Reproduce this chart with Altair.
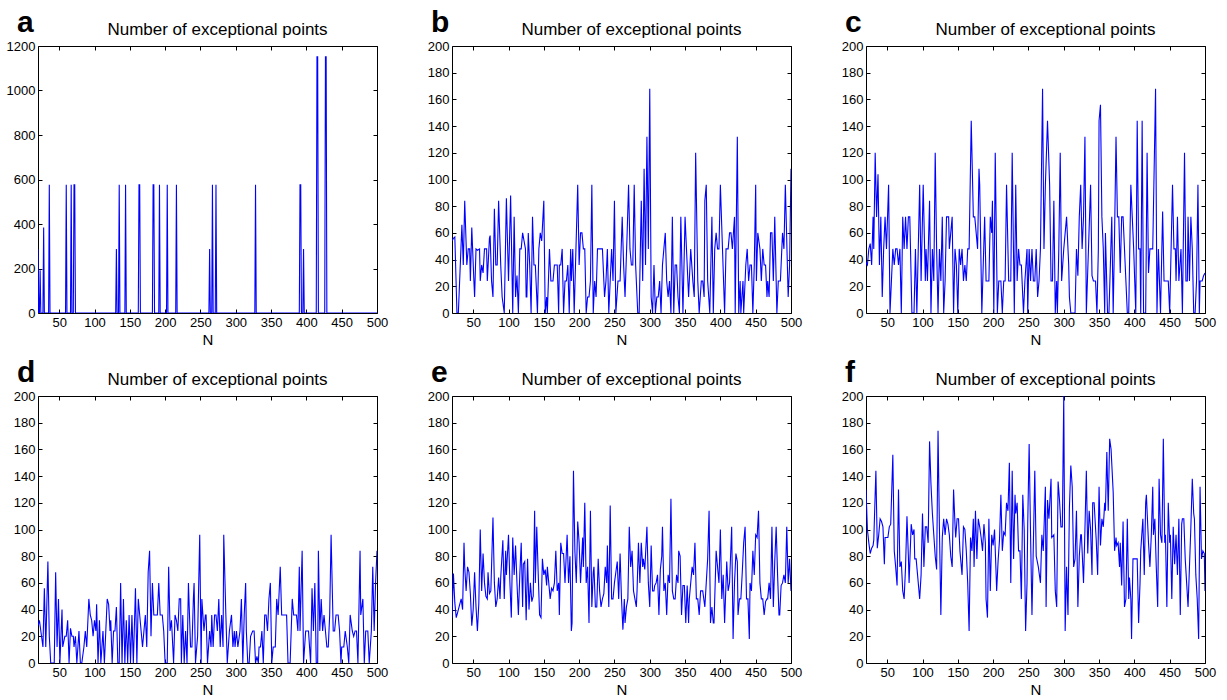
import altair as alt
import pandas as pd

N_MIN, N_MAX = 20, 500
X_TICKS = list(range(50, 501, 50))

# Panel a: zero everywhere except these spikes (N, count)
a_spikes = [(20, 288), (23, 192), (28, 384), (36, 576), (60, 576), (67, 576), (71, 576),
            (72, 576), (131, 288), (135, 576), (144, 576), (163, 576), (164, 576),
            (183, 576), (184, 576), (192, 576), (203, 576), (216, 576), (263, 288),
            (267, 576), (272, 576), (328, 576), (391, 576), (392, 576), (396, 288),
            (415, 1152), (416, 1152), (427, 1152), (428, 1152)]

b_points = [(20, 54), (22, 56), (24, 57), (27, 0), (29, 0), (34, 66), (36, 36), (38, 84), (41, 36),
            (43, 48), (45, 48), (46, 24), (48, 64), (51, 24), (52, 12), (54, 48), (56, 47), (59, 48),
            (60, 24), (62, 36), (64, 30), (66, 48), (69, 48), (70, 24), (73, 56), (74, 58), (76, 24),
            (78, 12), (80, 78), (82, 36), (84, 36), (86, 84), (89, 36), (91, 12), (94, 0), (97, 86),
            (100, 24), (103, 88), (106, 0), (108, 72), (110, 12), (112, 28), (114, 0), (116, 48),
            (118, 48), (120, 60), (122, 54), (124, 48), (125, 12), (126, 12), (128, 60), (130, 36),
            (132, 0), (134, 72), (136, 36), (138, 36), (141, 0), (143, 48), (145, 60), (147, 54),
            (150, 84), (152, 0), (154, 12), (155, 0), (158, 48), (160, 24), (163, 24), (165, 36),
            (169, 36), (171, 0), (172, 36), (174, 36), (176, 48), (178, 0), (180, 24), (182, 24),
            (184, 36), (186, 0), (188, 48), (189, 24), (191, 48), (193, 0), (198, 96), (200, 36),
            (202, 60), (204, 60), (206, 48), (208, 48), (210, 0), (212, 12), (214, 12), (216, 24),
            (218, 96), (220, 0), (222, 24), (224, 12), (226, 48), (231, 48), (233, 48), (236, 12),
            (238, 24), (240, 48), (242, 0), (244, 24), (246, 48), (248, 24), (250, 84), (252, 0),
            (255, 24), (258, 24), (261, 72), (263, 36), (265, 12), (268, 60), (270, 96), (272, 48),
            (274, 36), (276, 36), (278, 96), (280, 36), (283, 0), (285, 0), (288, 84), (290, 24),
            (292, 108), (294, 36), (296, 132), (298, 48), (300, 168), (302, 12), (304, 0), (306, 36),
            (308, 0), (310, 12), (312, 12), (314, 24), (316, 0), (318, 36), (320, 48), (322, 60),
            (324, 24), (326, 12), (328, 24), (330, 0), (332, 72), (334, 0), (336, 36), (338, 36),
            (340, 12), (342, 0), (344, 72), (347, 0), (350, 72), (352, 48), (355, 12), (358, 48),
            (361, 24), (363, 12), (365, 120), (368, 24), (370, 0), (373, 24), (375, 24), (377, 12),
            (378, 84), (380, 96), (382, 24), (385, 0), (388, 72), (390, 0), (392, 48), (394, 60),
            (396, 48), (398, 48), (400, 96), (403, 48), (406, 0), (408, 48), (411, 48), (413, 60),
            (415, 60), (417, 48), (420, 72), (421, 0), (424, 132), (426, 0), (428, 24), (429, 0),
            (432, 24), (433, 0), (436, 36), (438, 48), (440, 24), (442, 36), (444, 36), (446, 0),
            (448, 36), (450, 96), (451, 24), (453, 60), (456, 48), (458, 24), (460, 48), (462, 36),
            (464, 36), (466, 12), (467, 24), (469, 12), (471, 60), (473, 60), (475, 24), (477, 72),
            (480, 0), (482, 24), (485, 24), (488, 60), (490, 48), (492, 96), (496, 12), (498, 36),
            (500, 108)]

c_points = [(20, 38), (22, 36), (24, 48), (26, 52), (28, 36), (30, 72), (31, 48), (33, 120), (35, 72),
            (37, 104), (39, 36), (41, 72), (43, 12), (45, 48), (47, 72), (49, 48), (52, 96), (54, 0),
            (56, 24), (58, 48), (60, 36), (62, 48), (64, 48), (66, 36), (68, 48), (70, 0), (72, 72),
            (74, 48), (76, 72), (78, 48), (80, 72), (82, 72), (85, 0), (88, 0), (90, 48), (92, 0),
            (96, 96), (98, 24), (101, 96), (104, 24), (105, 48), (107, 24), (110, 84), (112, 0),
            (114, 48), (116, 24), (118, 120), (120, 48), (122, 0), (124, 48), (126, 24), (128, 72),
            (130, 0), (132, 24), (134, 72), (137, 72), (138, 48), (142, 72), (144, 0), (146, 48),
            (148, 36), (150, 0), (152, 48), (154, 36), (156, 48), (158, 24), (160, 36), (162, 24),
            (164, 48), (166, 48), (169, 144), (172, 72), (174, 72), (178, 48), (180, 108), (181, 96),
            (184, 0), (188, 72), (190, 24), (194, 24), (196, 72), (198, 60), (199, 84), (201, 0),
            (203, 120), (206, 0), (208, 24), (211, 24), (213, 0), (215, 24), (217, 24), (219, 96),
            (222, 24), (223, 24), (225, 24), (227, 120), (230, 0), (232, 96), (234, 24), (236, 48),
            (238, 36), (240, 36), (243, 0), (245, 24), (248, 48), (249, 0), (251, 48), (253, 24),
            (255, 48), (257, 24), (259, 24), (261, 48), (263, 12), (265, 24), (267, 48), (270, 168),
            (272, 48), (274, 96), (277, 144), (280, 96), (282, 24), (284, 24), (286, 84), (288, 0),
            (290, 24), (291, 0), (293, 48), (295, 120), (297, 24), (300, 48), (304, 72), (307, 36),
            (308, 12), (310, 0), (313, 0), (316, 0), (318, 48), (320, 28), (322, 72), (324, 96),
            (326, 48), (328, 72), (330, 132), (332, 0), (335, 48), (338, 96), (340, 28), (342, 24),
            (345, 24), (347, 0), (349, 48), (350, 144), (352, 156), (354, 72), (356, 48), (358, 0),
            (359, 60), (362, 0), (364, 0), (366, 36), (368, 72), (370, 0), (372, 60), (374, 132),
            (376, 72), (378, 72), (380, 30), (382, 72), (384, 72), (387, 36), (390, 0), (392, 0),
            (395, 96), (397, 72), (399, 48), (402, 0), (404, 144), (406, 48), (408, 48), (409, 0),
            (411, 144), (413, 0), (416, 0), (418, 120), (420, 30), (422, 48), (424, 48), (426, 48),
            (430, 168), (432, 0), (434, 48), (437, 0), (440, 76), (442, 24), (445, 24), (448, 24),
            (450, 0), (454, 96), (456, 48), (458, 48), (459, 24), (461, 72), (463, 24), (466, 48),
            (468, 0), (471, 120), (473, 24), (475, 24), (476, 72), (478, 24), (480, 72), (482, 48),
            (484, 0), (486, 0), (488, 24), (490, 96), (492, 0), (493, 24), (496, 24), (498, 28),
            (500, 30)]

d_points = [(20, 28), (22, 32), (25, 20), (27, 12), (29, 56), (31, 12), (34, 76), (36, 20), (38, 0),
            (41, 0), (43, 0), (45, 68), (47, 12), (49, 48), (51, 0), (54, 40), (55, 12), (58, 20),
            (60, 20), (62, 32), (64, 0), (66, 26), (68, 20), (70, 20), (71, 12), (73, 20), (75, 0),
            (78, 24), (80, 0), (82, 0), (85, 12), (87, 24), (89, 12), (92, 48), (94, 36), (96, 32),
            (98, 20), (100, 32), (102, 24), (103, 44), (105, 0), (107, 32), (109, 0), (112, 24),
            (114, 0), (116, 24), (118, 48), (120, 44), (122, 24), (123, 32), (125, 0), (127, 24),
            (129, 24), (131, 42), (133, 0), (135, 0), (137, 60), (139, 0), (141, 48), (143, 0),
            (145, 32), (147, 0), (149, 36), (151, 0), (153, 36), (155, 0), (158, 56), (160, 0),
            (162, 48), (164, 36), (166, 24), (168, 12), (170, 24), (172, 36), (174, 12), (176, 68),
            (178, 84), (180, 20), (182, 60), (184, 36), (187, 36), (189, 36), (191, 60), (193, 36),
            (196, 36), (198, 24), (200, 0), (203, 0), (205, 72), (207, 24), (209, 32), (212, 0),
            (214, 36), (216, 32), (218, 24), (220, 48), (222, 48), (223, 0), (225, 36), (227, 0),
            (229, 24), (231, 0), (233, 60), (236, 12), (238, 12), (240, 48), (241, 60), (243, 0),
            (246, 20), (249, 96), (251, 0), (252, 48), (255, 24), (257, 36), (258, 36), (260, 0),
            (263, 24), (265, 12), (266, 36), (268, 12), (270, 36), (272, 36), (274, 24), (276, 48),
            (278, 12), (280, 36), (282, 12), (283, 96), (286, 36), (288, 0), (291, 24), (294, 36),
            (296, 12), (298, 24), (299, 12), (301, 24), (303, 12), (306, 24), (308, 48), (310, 0),
            (312, 36), (314, 60), (315, 24), (317, 0), (319, 0), (321, 20), (324, 24), (326, 24),
            (328, 0), (330, 5), (332, 0), (333, 12), (335, 12), (337, 24), (339, 0), (341, 36),
            (343, 36), (345, 24), (347, 48), (349, 60), (351, 0), (353, 12), (356, 12), (358, 48),
            (360, 36), (363, 72), (365, 36), (367, 36), (370, 36), (372, 36), (374, 0), (377, 0),
            (380, 48), (382, 36), (384, 36), (386, 36), (388, 24), (390, 72), (391, 24), (394, 84),
            (396, 0), (399, 24), (401, 24), (403, 24), (406, 0), (408, 56), (410, 24), (412, 60),
            (414, 0), (416, 0), (417, 84), (419, 24), (421, 48), (423, 24), (425, 36), (427, 24),
            (429, 12), (431, 12), (433, 36), (435, 96), (438, 24), (440, 24), (442, 36), (445, 36),
            (447, 24), (449, 0), (450, 12), (453, 12), (455, 24), (458, 12), (460, 0), (462, 36),
            (465, 24), (467, 20), (469, 24), (471, 24), (473, 0), (476, 84), (477, 36), (480, 48),
            (482, 0), (484, 24), (485, 24), (487, 24), (489, 0), (492, 24), (494, 72), (496, 24),
            (498, 60), (500, 84)]

e_points = [(20, 34), (22, 67), (24, 45), (26, 34), (28, 38), (30, 42), (33, 48), (35, 40), (37, 90),
            (38, 72), (40, 54), (42, 72), (44, 68), (46, 52), (48, 28), (50, 40), (52, 68), (54, 42),
            (56, 24), (58, 45), (60, 100), (62, 54), (64, 82), (66, 60), (68, 50), (70, 48), (71, 68),
            (73, 52), (75, 54), (78, 109), (80, 60), (82, 42), (84, 48), (86, 64), (88, 48), (89, 64),
            (92, 92), (94, 48), (96, 84), (97, 66), (100, 96), (102, 60), (104, 34), (106, 94),
            (108, 66), (110, 88), (112, 60), (114, 36), (116, 66), (118, 90), (120, 42), (121, 74),
            (123, 76), (125, 32), (127, 78), (129, 40), (131, 60), (133, 46), (135, 50), (137, 114),
            (138, 60), (140, 102), (142, 68), (144, 36), (146, 34), (148, 78), (150, 66), (152, 70),
            (154, 58), (155, 72), (157, 60), (159, 48), (161, 56), (163, 54), (165, 60), (167, 84),
            (169, 54), (171, 60), (172, 36), (174, 90), (176, 82), (178, 82), (180, 60), (183, 96),
            (185, 60), (187, 80), (189, 24), (190, 30), (192, 144), (194, 84), (196, 60), (198, 106),
            (200, 90), (202, 60), (205, 94), (206, 72), (208, 120), (210, 60), (212, 72), (214, 30),
            (216, 114), (218, 42), (220, 68), (221, 72), (223, 42), (225, 42), (227, 78), (229, 54),
            (231, 42), (233, 48), (235, 52), (237, 72), (239, 60), (240, 88), (242, 42), (244, 118),
            (246, 48), (248, 48), (250, 60), (252, 68), (254, 76), (256, 48), (258, 82), (260, 48),
            (262, 25), (264, 48), (265, 30), (267, 42), (269, 48), (271, 102), (273, 72), (275, 84),
            (277, 54), (279, 48), (281, 42), (282, 54), (284, 90), (286, 60), (288, 90), (290, 72),
            (291, 78), (293, 70), (296, 102), (298, 60), (300, 42), (302, 88), (304, 54), (306, 54),
            (307, 58), (309, 60), (311, 66), (313, 36), (315, 70), (317, 80), (318, 102), (320, 54),
            (322, 60), (324, 36), (326, 66), (328, 60), (330, 123), (332, 54), (334, 48), (336, 48),
            (338, 66), (340, 60), (341, 84), (343, 80), (345, 36), (347, 58), (349, 58), (351, 30),
            (353, 58), (355, 30), (356, 48), (360, 72), (362, 66), (364, 90), (366, 48), (368, 48),
            (370, 36), (372, 54), (374, 54), (375, 54), (378, 42), (380, 60), (382, 78), (384, 114),
            (386, 30), (388, 42), (390, 30), (391, 30), (394, 84), (396, 72), (398, 60), (400, 100),
            (402, 48), (404, 66), (406, 30), (408, 60), (409, 76), (411, 54), (413, 60), (416, 102),
            (418, 18), (420, 60), (422, 82), (424, 76), (425, 36), (427, 48), (429, 48), (431, 68),
            (433, 90), (435, 102), (437, 48), (439, 48), (441, 18), (442, 60), (444, 54), (446, 84),
            (448, 66), (450, 96), (452, 94), (454, 114), (456, 60), (458, 48), (460, 48), (462, 36),
            (464, 46), (466, 48), (467, 48), (469, 60), (471, 48), (473, 102), (475, 42), (477, 76),
            (479, 102), (481, 66), (483, 36), (484, 36), (486, 58), (488, 60), (490, 66), (492, 60),
            (494, 102), (496, 60), (498, 78), (500, 54)]

f_points = [(20, 130), (22, 100), (24, 90), (26, 82), (28, 86), (30, 88), (31, 92), (34, 144), (36, 86),
            (38, 96), (40, 108), (42, 106), (44, 102), (46, 74), (47, 94), (49, 94), (51, 94), (53, 102),
            (55, 104), (58, 156), (60, 84), (62, 72), (64, 58), (66, 130), (68, 72), (70, 76), (72, 54),
            (74, 48), (76, 72), (78, 110), (80, 80), (81, 60), (84, 104), (86, 96), (88, 100), (89, 78),
            (91, 78), (93, 66), (96, 48), (98, 66), (100, 112), (102, 72), (104, 102), (106, 102),
            (108, 90), (110, 166), (112, 134), (114, 112), (116, 96), (118, 80), (120, 70), (122, 174),
            (124, 100), (126, 36), (128, 94), (130, 108), (132, 96), (134, 108), (136, 104), (138, 96),
            (140, 80), (142, 72), (144, 130), (146, 104), (147, 94), (149, 108), (151, 108), (153, 84),
            (156, 66), (158, 102), (160, 100), (162, 84), (164, 60), (166, 24), (168, 94), (170, 84),
            (172, 108), (173, 72), (175, 114), (177, 78), (179, 108), (181, 102), (183, 94), (185, 84),
            (187, 104), (189, 90), (190, 48), (192, 34), (194, 108), (196, 54), (198, 96), (200, 88),
            (202, 100), (204, 70), (205, 54), (207, 76), (209, 92), (211, 126), (213, 84), (215, 98),
            (217, 96), (219, 120), (221, 114), (223, 150), (225, 60), (227, 144), (229, 78), (231, 126),
            (232, 112), (234, 120), (236, 84), (238, 84), (240, 48), (242, 126), (244, 100), (246, 24),
            (248, 60), (249, 104), (251, 164), (253, 96), (255, 36), (257, 90), (259, 144), (261, 80),
            (264, 72), (267, 60), (269, 96), (271, 84), (274, 132), (275, 42), (277, 122), (279, 108),
            (282, 138), (283, 94), (286, 96), (288, 54), (290, 42), (292, 136), (294, 122), (296, 102),
            (298, 102), (300, 200), (302, 24), (304, 72), (306, 36), (308, 116), (310, 148), (312, 132),
            (314, 72), (316, 78), (318, 114), (320, 42), (322, 80), (324, 96), (325, 96), (328, 60),
            (330, 100), (332, 144), (334, 82), (336, 114), (338, 100), (340, 66), (341, 120), (343, 120),
            (346, 92), (348, 66), (350, 132), (352, 88), (354, 108), (356, 102), (358, 120), (359, 114),
            (361, 158), (363, 114), (365, 168), (367, 160), (370, 128), (372, 84), (374, 94), (375, 88),
            (377, 90), (379, 72), (380, 90), (382, 58), (384, 106), (386, 42), (388, 48), (390, 108),
            (392, 48), (393, 64), (395, 48), (396, 18), (398, 78), (400, 78), (402, 78), (404, 78),
            (406, 30), (408, 60), (409, 84), (412, 108), (414, 66), (416, 120), (417, 126), (420, 90),
            (422, 72), (424, 96), (426, 132), (427, 96), (429, 108), (431, 72), (433, 42), (435, 138),
            (437, 96), (439, 90), (441, 168), (443, 90), (444, 96), (446, 42), (448, 120), (450, 90),
            (451, 96), (453, 48), (455, 102), (457, 74), (459, 96), (461, 66), (463, 108), (465, 36),
            (467, 104), (468, 108), (470, 108), (472, 78), (474, 60), (476, 42), (478, 72), (480, 102),
            (482, 138), (484, 112), (485, 108), (487, 66), (489, 48), (491, 18), (493, 132), (495, 78),
            (497, 84), (499, 82), (500, 54)]

FONT = "Liberation Sans"
TITLE_TEXT = "Number of exceptional points"
PLOT_W, PLOT_H = 339, 267
TICK = 4


def a_series():
    lookup = dict(a_spikes)
    return [(k, lookup.get(k, 0)) for k in range(N_MIN, N_MAX + 1)]


def panel(letter, points, ymax, ystep):
    df = pd.DataFrame(points, columns=["N", "count"])
    x_scale = alt.Scale(domain=[N_MIN, N_MAX], nice=False, zero=False)
    y_scale = alt.Scale(domain=[0, ymax], nice=False)
    y_ticks = list(range(0, ymax + 1, ystep))

    # inward ticks: shift each axis into the plot by its tick length
    tick_style = dict(domain=False, grid=False, tickSize=TICK, offset=-TICK,
                      tickColor="black", tickWidth=1)
    label_style = dict(labelFont=FONT, labelFontSize=13, labelColor="black", format="d",
                       labelPadding=3, labelFlush=False, labelOverlap=False)

    line = alt.Chart(df).mark_line(color="#0000ff", strokeWidth=1.1, clip=True).encode(
        x=alt.X("N:Q", scale=x_scale,
                axis=alt.Axis(orient="bottom", values=X_TICKS, title="N",
                              titleFont=FONT, titleFontSize=15, titleFontWeight="normal",
                              titleColor="black", titlePadding=3,
                              **tick_style, **label_style)),
        y=alt.Y("count:Q", scale=y_scale,
                axis=alt.Axis(orient="left", values=y_ticks, title=None, minExtent=40,
                              **tick_style, **label_style)),
    )
    # top/right tick marks around the frame
    mirror = alt.Chart(df).mark_line(strokeOpacity=0).encode(
        x=alt.X("N:Q", scale=x_scale,
                axis=alt.Axis(orient="top", values=X_TICKS, labels=False, title=None, **tick_style)),
        y=alt.Y("count:Q", scale=y_scale,
                axis=alt.Axis(orient="right", values=y_ticks, labels=False, title=None, **tick_style)),
    )
    heading = alt.Chart(pd.DataFrame({"t": [TITLE_TEXT]})).mark_text(
        font=FONT, fontSize=17, align="center", baseline="alphabetic", color="black"
    ).encode(text="t:N", x=alt.value(PLOT_W / 2 + 10), y=alt.value(-11))
    tag = alt.Chart(pd.DataFrame({"t": [letter]})).mark_text(
        font=FONT, fontSize=30, fontWeight="bold", align="left", baseline="alphabetic", color="black"
    ).encode(text="t:N", x=alt.value(-21), y=alt.value(-14))

    return alt.layer(line, mirror, heading, tag).resolve_axis(
        x="independent", y="independent"
    ).properties(width=PLOT_W, height=PLOT_H)


pa = panel("a", a_series(), 1200, 200)
pb = panel("b", b_points, 200, 20)
pc = panel("c", c_points, 200, 20)
pd_ = panel("d", d_points, 200, 20)
pe = panel("e", e_points, 200, 20)
pf = panel("f", f_points, 200, 20)

chart = alt.vconcat(
    alt.hconcat(pa, pb, pc, spacing=26),
    alt.hconcat(pd_, pe, pf, spacing=26),
    spacing=9,
).properties(
    padding={"left": 1, "top": 7, "right": 2, "bottom": 0},
    background="white",
).configure_view(stroke="black", strokeWidth=1)

chart.save("out.html", embed_options={"renderer": "svg", "actions": False})
